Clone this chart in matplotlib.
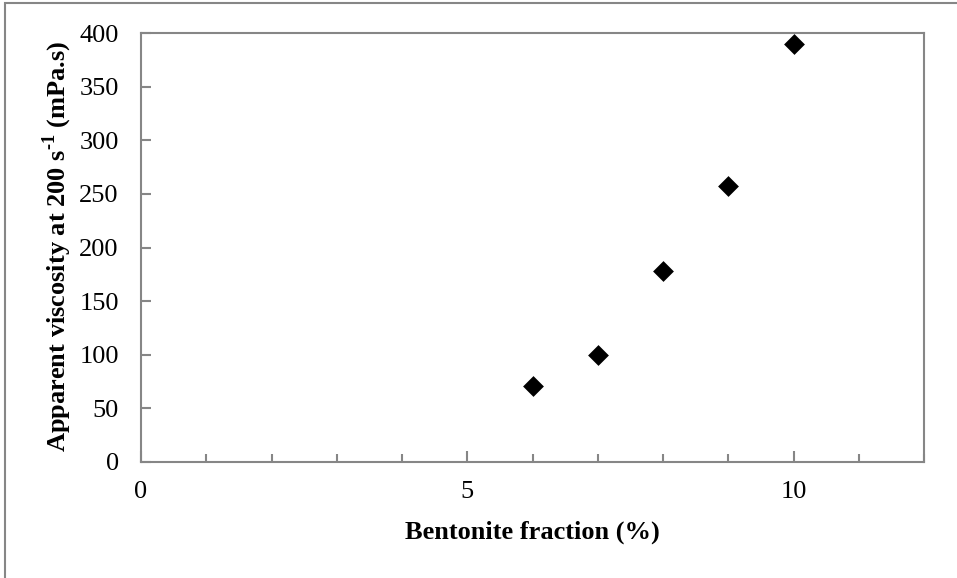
import matplotlib
matplotlib.use("Agg")
import matplotlib.pyplot as plt
from matplotlib.patches import Rectangle
from matplotlib.ticker import MultipleLocator

bentonite = [6, 7, 8, 9, 10]
viscosity = [71, 100, 178, 257, 390]

plt.rcParams['font.family'] = ['Liberation Serif', 'DejaVu Serif']
plt.rcParams['mathtext.fontset'] = 'custom'
plt.rcParams['mathtext.rm'] = 'Liberation Serif:bold'
plt.rcParams['mathtext.bf'] = 'Liberation Serif:bold'

W, H = 957, 578
fig = plt.figure(figsize=(W/100, H/100), dpi=100)

L, R, T, B = 141, 924, 33, 462
ax = fig.add_axes([L/W, 1-B/H, (R-L)/W, (B-T)/H])
ax.scatter(bentonite, viscosity, marker='D', s=10.6**2, color='black', zorder=3, linewidths=0)

ax.set_xlim(0, 12)
ax.set_ylim(0, 400)
ax.xaxis.set_major_locator(MultipleLocator(5))
ax.xaxis.set_minor_locator(MultipleLocator(1))
ax.yaxis.set_major_locator(MultipleLocator(50))
gray = '#868686'
for s in ax.spines.values():
    s.set_color(gray)
    s.set_linewidth(1.5)
ax.tick_params(axis='both', which='both', direction='in', color=gray, width=1.5, labelsize=19)
ax.tick_params(axis='x', which='major', length=8, pad=14)
ax.tick_params(axis='x', which='minor', length=6)
ax.tick_params(axis='y', which='major', length=7, pad=16)

ax.set_xlabel('Bentonite fraction (%)', fontsize=19, fontweight='bold')
ax.set_ylabel('Apparent viscosity at 200 s$^{\\text{-1}}$ (mPa.s)', fontsize=19, fontweight='bold')
ax.xaxis.set_label_coords(((404+660)/2 - L)/(R-L), (B-532)/(B-T))
ax.xaxis.label.set_verticalalignment('center')
ax.yaxis.set_label_coords((57 - L)/(R-L), (B-246)/(B-T))
ax.yaxis.label.set_verticalalignment('center')

fig.patches.append(Rectangle((5/W, -0.1), 1.2, 1-3/H+0.1, transform=fig.transFigure,
                             fill=False, edgecolor=gray, linewidth=1.5))
fig.savefig('out.png', dpi=100)
